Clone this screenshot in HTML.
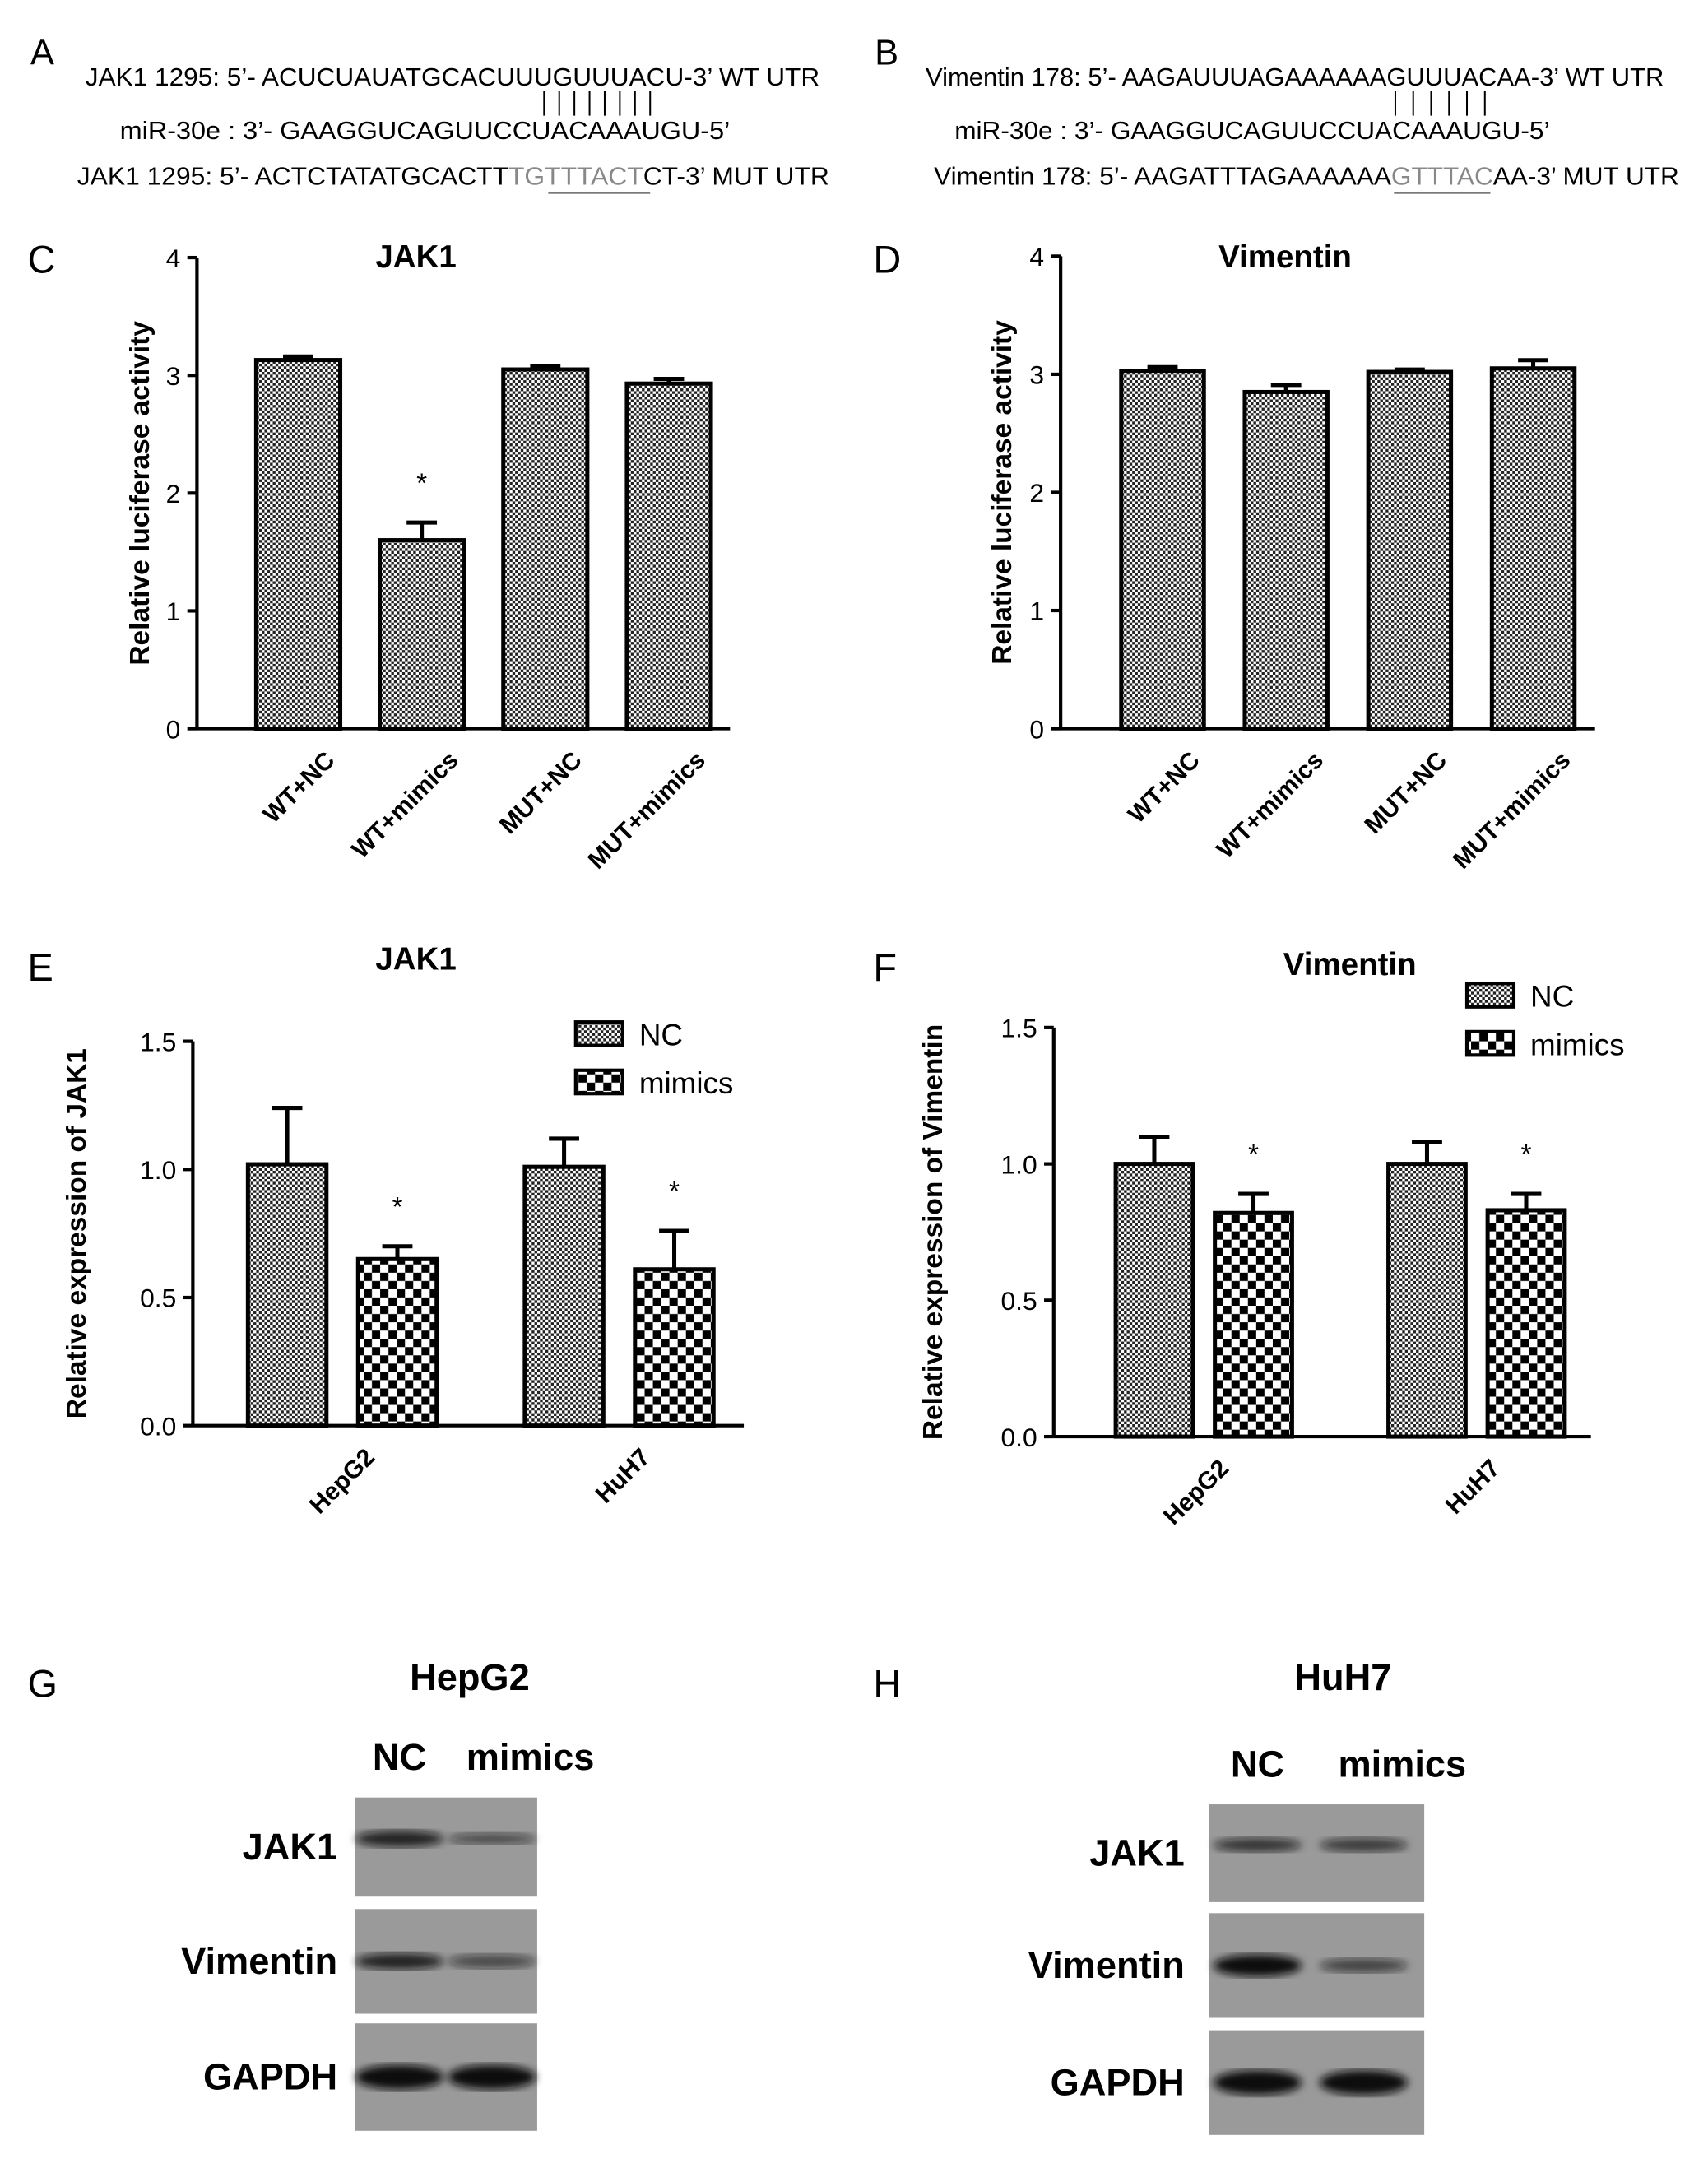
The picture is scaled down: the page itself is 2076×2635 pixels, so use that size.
<!DOCTYPE html>
<html><head><meta charset="utf-8"><style>
html,body{margin:0;padding:0;background:#fff}
svg{display:block}
text{font-family:"Liberation Sans",Arial,sans-serif}
</style></head><body>
<svg id="fig" width="2076" height="2635" viewBox="0 0 1240 1574" preserveAspectRatio="none" xmlns="http://www.w3.org/2000/svg">
<defs>
<pattern id="dots" width="4" height="4" patternUnits="userSpaceOnUse"><rect width="4" height="4" fill="#fff"/><rect x="0" y="0" width="2" height="2" fill="#222"/><rect x="2" y="2" width="2" height="2" fill="#222"/></pattern>
<pattern id="check" width="12" height="12" patternUnits="userSpaceOnUse"><rect width="12" height="12" fill="#fff"/><rect x="0" y="0" width="6" height="6" fill="#000"/><rect x="6" y="6" width="6" height="6" fill="#000"/></pattern>
<filter id="blur"><feGaussianBlur stdDeviation="3"/></filter>
</defs>
<g font-size="18">
<text x="22" y="47" font-size="26">A</text>
<text x="62" y="62" textLength="533" lengthAdjust="spacingAndGlyphs">JAK1 1295: 5’- ACUCUAUATGCACUUUGUUUACU-3’ WT UTR</text>
<text x="87" y="101" textLength="443" lengthAdjust="spacingAndGlyphs">miR-30e : 3’- GAAGGUCAGUUCCUACAAAUGU-5’</text>
<text x="56" y="134" textLength="546" lengthAdjust="spacingAndGlyphs">JAK1 1295: 5’- ACTCTATATGCACTT<tspan fill="#888">TGTTTACT</tspan>CT-3’ MUT UTR</text>
<line x1="398" y1="140" x2="472" y2="140" stroke="#666" stroke-width="1.5"/>
<g stroke="#000" stroke-width="1.2">
<line x1="395" y1="66" x2="395" y2="84"/><line x1="406" y1="66" x2="406" y2="84"/><line x1="417" y1="66" x2="417" y2="84"/><line x1="428" y1="66" x2="428" y2="84"/><line x1="439" y1="66" x2="439" y2="84"/><line x1="450" y1="66" x2="450" y2="84"/><line x1="461" y1="66" x2="461" y2="84"/><line x1="472" y1="66" x2="472" y2="84"/></g>
<text x="635" y="47" font-size="26">B</text>
<text x="672" y="62" textLength="536" lengthAdjust="spacingAndGlyphs">Vimentin 178: 5’- AAGAUUUAGAAAAAAGUUUACAA-3’ WT UTR</text>
<text x="693" y="101" textLength="432" lengthAdjust="spacingAndGlyphs">miR-30e : 3’- GAAGGUCAGUUCCUACAAAUGU-5’</text>
<text x="678" y="134" textLength="541" lengthAdjust="spacingAndGlyphs">Vimentin 178: 5’- AAGATTTAGAAAAAA<tspan fill="#888">GTTTAC</tspan>AA-3’ MUT UTR</text>
<line x1="1012" y1="140" x2="1082" y2="140" stroke="#666" stroke-width="1.5"/>
<g stroke="#000" stroke-width="1.2">
<line x1="1013" y1="66" x2="1013" y2="84"/><line x1="1026" y1="66" x2="1026" y2="84"/><line x1="1039" y1="66" x2="1039" y2="84"/><line x1="1052" y1="66" x2="1052" y2="84"/><line x1="1065" y1="66" x2="1065" y2="84"/><line x1="1078" y1="66" x2="1078" y2="84"/></g>
</g>
<g id="charts"></g>
<g id="blots"></g>
</svg>
<script>
// Panel C data
const cCats=["WT+NC","WT+mimics","MUT+NC","MUT+mimics"];
const cVals=[3.13,1.6,3.05,2.93];
const cErr=[0.03,0.15,0.03,0.04];
const cTicks=[0,1,2,3,4];
// Panel D data
const dCats=["WT+NC","WT+mimics","MUT+NC","MUT+mimics"];
const dVals=[3.03,2.85,3.02,3.05];
const dErr=[0.03,0.06,0.02,0.07];
const dTicks=[0,1,2,3,4];
// Panel E data
const eGroups=["HepG2","HuH7"];
const eNC=[1.02,1.01];
const eNCerr=[0.22,0.11];
const eMim=[0.65,0.61];
const eMimErr=[0.05,0.15];
const eTicks=["0.0","0.5","1.0","1.5"];
// Panel F data
const fGroups=["HepG2","HuH7"];
const fNC=[1.0,1.0];
const fNCerr=[0.1,0.08];
const fMim=[0.82,0.83];
const fMimErr=[0.07,0.06];
const fTicks=["0.0","0.5","1.0","1.5"];

const NS="http://www.w3.org/2000/svg";
const root=document.getElementById('charts');
function mk(tag,attrs,parent,txt){const e=document.createElementNS(NS,tag);for(const k in attrs)e.setAttribute(k,attrs[k]);if(txt!==undefined)e.textContent=txt;(parent||root).appendChild(e);return e;}

function chart(o){
  const g=mk('g',{});
  
  
  const y=v=>o.y0-(v-o.vmin)/(o.vmax-o.vmin)*(o.y0-o.y1);
  const ax=mk('line',{x1:o.ax,y1:o.y1,x2:o.ax,y2:o.y0,stroke:'#000','stroke-width':2.5},g);
  
  
  const xa=mk('line',{x1:o.ax,y1:o.y0,x2:o.xend,y2:o.y0,stroke:'#000','stroke-width':2.5},g);
  
  
  o.ticks.forEach(t=>{const v=parseFloat(t);
    mk('line',{x1:o.ax-7,y1:y(v),x2:o.ax,y2:y(v),stroke:'#000','stroke-width':2.5},g);
    const tl=mk('text',{x:o.ax-12,y:y(v)+7,'text-anchor':'end','font-size':19},g,t);
    
    
  });
  o.bars.forEach(b=>{
    const top=y(b.v);
    const r=mk('rect',{x:b.x,y:top,width:b.w,height:o.y0-top,fill:b.fill,stroke:'#000','stroke-width':3},g);
    
    
    const cx=b.x+b.w/2, et=y(b.v+b.e);
    const el=mk('path',{d:`M${cx} ${top}V${et}M${cx-11} ${et}H${cx+11}`,stroke:'#000','stroke-width':3,fill:'none'},g);
    
    
    if(b.star){const s=mk('text',{x:cx,y:et-22,'text-anchor':'middle','font-size':20},g,'*');
      
      }
  });
  o.xlabels.forEach(l=>{
    const t=mk('text',{transform:`translate(${l.x+18},${o.y0+24}) rotate(-45)`,'text-anchor':'end','font-size':18,'font-weight':'bold'},g,l.t);
    
    
  });
  const yt=mk('text',{transform:`translate(${o.ylx},${(o.y0+o.y1)/2}) rotate(-90)`,'text-anchor':'middle','font-size':20,'font-weight':'bold'},g,o.ytitle);
  
  
  const ti=mk('text',{x:o.tx,y:o.ty,'text-anchor':'middle','font-size':23,'font-weight':'bold'},g,o.title);
  
  
  const pl=mk('text',{x:o.px,y:o.py,'font-size':28},g,o.plabel);
  
  
  if(o.legend){
    [['url(#dots)','NC'],['url(#check)','mimics']].forEach((L,i)=>{
      const lg=mk('g',{},g);
      
      
      mk('rect',{x:o.legend[0],y:o.legend[1]+i*35,width:34,height:17,fill:L[0],stroke:'#000','stroke-width':2.5},lg);
      mk('text',{x:o.legend[0]+46,y:o.legend[1]+i*35+17,'font-size':22},lg,L[1]);
    });
  }
}
function simpleBars(cats,vals,errs,x0,step,w,starIdx){
  return cats.map((c,i)=>({id:c.toLowerCase().replace(/\+/g,'-'),x:x0+i*step,w:w,v:vals[i],e:errs[i],fill:'url(#dots)',star:i===starIdx}));
}
chart({name:'chart-c-jak1-luciferase',ax:143,y0:529,y1:187,xend:530,vmin:0,vmax:4,ticks:cTicks.map(String),
  bars:simpleBars(cCats,cVals,cErr,186,89.7,61,1),
  xlabels:cCats.map((c,i)=>({x:186+i*89.7+40,t:c})),ytitle:'Relative luciferase activity',ylx:108,title:'JAK1',tx:302,ty:194,plabel:'C',px:20,py:198});
chart({name:'chart-d-vimentin-luciferase',ax:770,y0:529,y1:186,xend:1158,vmin:0,vmax:4,ticks:dTicks.map(String),
  bars:simpleBars(dCats,dVals,dErr,814,89.7,60,-1),
  xlabels:dCats.map((c,i)=>({x:814+i*89.7+40,t:c})),ytitle:'Relative luciferase activity',ylx:734,title:'Vimentin',tx:933,ty:194,plabel:'D',px:634,py:198});
function groupBars(groups,nc,nce,mim,mime,starts,w,gap){
  const b=[];groups.forEach((g,i)=>{
    b.push({id:g.toLowerCase()+'-nc',x:starts[i],w:w,v:nc[i],e:nce[i],fill:'url(#dots)'});
    b.push({id:g.toLowerCase()+'-mimics',x:starts[i]+gap,w:w,v:mim[i],e:mime[i],fill:'url(#check)',star:true});
  });return b;}
chart({name:'chart-e-jak1-expression',ax:140,y0:1035,y1:756,xend:540,vmin:0,vmax:1.5,ticks:eTicks,
  bars:groupBars(eGroups,eNC,eNCerr,eMim,eMimErr,[180,381],57,80),
  xlabels:eGroups.map((g,i)=>({x:[255,455][i],t:g})),ytitle:'Relative expression of JAK1',ylx:62,title:'JAK1',tx:302,ty:704,plabel:'E',px:20,py:712,legend:[418,742]});
chart({name:'chart-f-vimentin-expression',ax:765,y0:1043,y1:746,xend:1155,vmin:0,vmax:1.5,ticks:fTicks,
  bars:groupBars(fGroups,fNC,fNCerr,fMim,fMimErr,[810,1008],56,72),
  xlabels:fGroups.map((g,i)=>({x:[875,1072][i],t:g})),ytitle:'Relative expression of Vimentin',ylx:684,title:'Vimentin',tx:980,ty:708,plabel:'F',px:634,py:712,legend:[1065,714]});

// Western blots
const B=document.getElementById('blots');
function blot(name,label,title,tx,bx,bw,rows,labelX,lanes,bands){
  const g=mk('g',{},B);
  
  
  const pl=mk('text',{x:label[0],y:label[1],'font-size':28},g,label[2]);
  
  
  const t=mk('text',{x:tx,y:1227,'text-anchor':'middle','font-size':27,'font-weight':'bold'},g,title);
  
  
  const l1=mk('text',{x:lanes[0],y:rows[0][0]-20,'text-anchor':'middle','font-size':27,'font-weight':'bold'},g,'NC');
  
  
  const l2=mk('text',{x:lanes[1]+28,y:rows[0][0]-20,'text-anchor':'middle','font-size':27,'font-weight':'bold'},g,'mimics');
  
  
  ['JAK1','Vimentin','GAPDH'].forEach((p,i)=>{
    const [y0,y1]=rows[i];
    const r=mk('rect',{x:bx,y:y0,width:bw,height:y1-y0,fill:'#9a9a9a'},g);
    
    
    const lt=mk('text',{x:labelX,y:(y0+y1)/2+9,'text-anchor':'end','font-size':27,'font-weight':'bold'},g,p);
    
    
    bands[i].forEach((b,j)=>{
      const e=mk('ellipse',{cx:lanes[j],cy:(y0+y1)/2-(i===0?6:0),rx:32,ry:b[0],fill:'#111','fill-opacity':b[1],filter:'url(#blur)'},g);
      
      
    });
  });
}
blot('western-blot-hepg2',[20,1232,'G'],'HepG2',341,258,132,[[1305,1377],[1386,1462],[1469,1547]],245,[290,357],
  [[[6,0.85],[4,0.6]],[[6,0.85],[5,0.6]],[[9,1],[9,1]]]);
blot('western-blot-huh7',[634,1232,'H'],'HuH7',975,878,156,[[1310,1381],[1389,1465],[1474,1550]],860,[913,990],
  [[[5,0.75],[5,0.7]],[[8,1],[5,0.65]],[[9,1],[9,1]]]);
</script>
</body></html>
